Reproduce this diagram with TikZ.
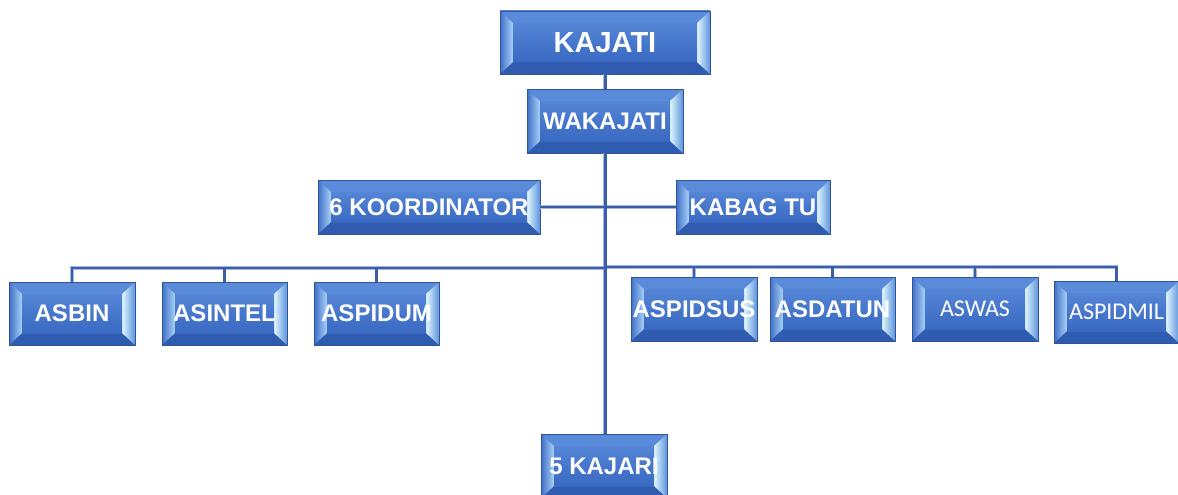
\documentclass[tikz,border=0pt]{standalone}
\usepackage{fontspec}
\setmainfont{Liberation Sans}
\newfontfamily\carl{Carlito}
\usetikzlibrary{calc}
\definecolor{boxedge}{HTML}{2F5597}
\definecolor{facetop}{HTML}{5485D6}
\definecolor{facebot}{HTML}{3A69C2}
\definecolor{bevtop}{HTML}{5A8BDA}
\definecolor{bevbot}{HTML}{2F5CB0}
\definecolor{bevlo}{HTML}{3F6FC8}
\definecolor{bevli}{HTML}{A9D2F7}
\definecolor{bevri}{HTML}{E2F7FF}
\definecolor{bevro}{HTML}{5C93DC}
\definecolor{conncol}{HTML}{3A5EA8}
\definecolor{connhalo}{HTML}{A3B8E0}
\tikzset{
  bevel/.style={rectangle, draw=boxedge, line width=0.8pt, inner sep=0pt,
    text=white, font=\bfseries\fontsize{24}{26}\selectfont,
    top color=facetop, bottom color=facebot,
    path picture={
      \coordinate (pnw) at (path picture bounding box.north west);
      \coordinate (pse) at (path picture bounding box.south east);
      \coordinate (pne) at (path picture bounding box.north east);
      \coordinate (psw) at (path picture bounding box.south west);
      \coordinate (inw) at ($(pnw)+(13pt,-12pt)$);
      \coordinate (ine) at ($(pne)+(-13pt,-12pt)$);
      \coordinate (ise) at ($(pse)+(-13pt,12pt)$);
      \coordinate (isw) at ($(psw)+(13pt,12pt)$);
      \fill[bevtop] (pnw) -- (pne) -- (ine) -- (inw) -- cycle;
      \fill[bevbot] (psw) -- (pse) -- (ise) -- (isw) -- cycle;
      \shade[left color=bevlo, right color=bevli] (pnw) -- (inw) -- (isw) -- (psw) -- cycle;
      \shade[left color=bevri, right color=bevro] (ine) -- (pne) -- (pse) -- (ise) -- cycle;
      \shade[top color=facetop, bottom color=facebot] (inw) rectangle (ise);
    }},
  lightfont/.style={font=\carl\fontsize{24}{26}\selectfont},
  halo/.style={draw=connhalo, line width=3.6pt},
  core/.style={draw=conncol, line width=2.2pt},
  trunkhalo/.style={draw=connhalo, line width=4.4pt},
  trunkcore/.style={draw=conncol, line width=3pt}
}
\newcommand\drawconns[2]{%
  \draw[#2] (kajati.south) -- (wakajati.north);
  \draw[#2] (wakajati.south) -- (wakajati.south |- kajari.north);
  \draw[#1] (koord.east) -- (kabag.west);
  \foreach \b in {asbin,asintel,aspidum}{\draw[#1] (\b.north) |- (busl);}
  \foreach \b in {aspidsus,asdatun,aswas,aspidmil}{\draw[#1] (\b.north) |- (busr);}
}
\begin{document}
\begin{tikzpicture}[x=1pt,y=-1pt]
\useasboundingbox (0,0) rectangle (1178,495);
\node[bevel, minimum width=210pt, minimum height=63pt, font=\bfseries\fontsize{29}{31}\selectfont] (kajati) at (605,42.5) {KAJATI};
\node[bevel, minimum width=156pt, minimum height=64pt] (wakajati) at (605,121) {WAKAJATI};
\node[bevel, minimum width=222pt, minimum height=54pt] (koord) at (429,207) {6 KOORDINATOR};
\node[bevel, minimum width=154pt, minimum height=54pt] (kabag) at (753,207) {KABAG TU};
\node[bevel, minimum width=126pt, minimum height=63pt] (asbin) at (72,313.5) {ASBIN};
\node[bevel, minimum width=125pt, minimum height=63pt] (asintel) at (224.5,313.5) {ASINTEL};
\node[bevel, minimum width=125pt, minimum height=63pt] (aspidum) at (376.5,313.5) {ASPIDUM};
\node[bevel, minimum width=126pt, minimum height=64pt] (aspidsus) at (694,309) {ASPIDSUS};
\node[bevel, minimum width=125pt, minimum height=64pt] (asdatun) at (832.5,309) {ASDATUN};
\node[bevel, lightfont, minimum width=126pt, minimum height=64pt] (aswas) at (975,309) {ASWAS};
\node[bevel, lightfont, minimum width=125pt, minimum height=62pt] (aspidmil) at (1116.5,312) {ASPIDMIL};
\node[bevel, minimum width=126pt, minimum height=64pt] (kajari) at (604,466) {5 KAJARI};
\coordinate (busl) at (605,268);
\coordinate (busr) at (605,267);
\drawconns{halo}{trunkhalo}
\drawconns{core}{trunkcore}
\end{tikzpicture}
\end{document}
